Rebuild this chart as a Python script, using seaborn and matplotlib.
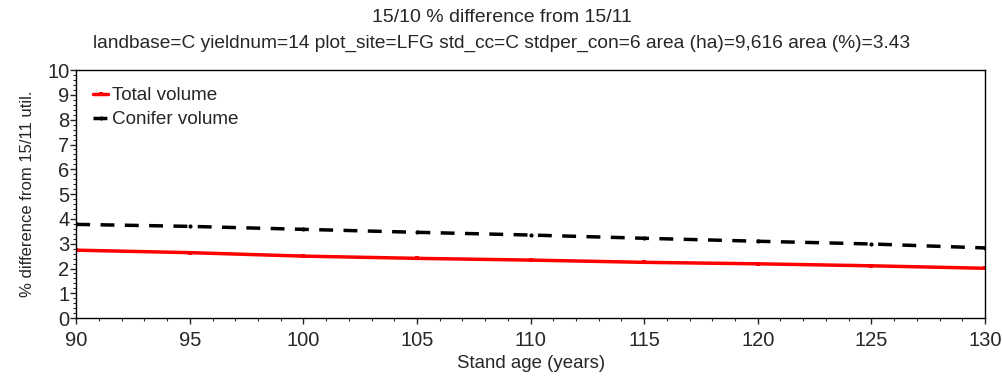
import numpy as np
import pandas as pd
import matplotlib
matplotlib.use('Agg')
import matplotlib.pyplot as plt
from matplotlib.ticker import MultipleLocator
import seaborn as sns

# stand age and % difference values
ages = [90, 95, 100, 105, 110, 115, 120, 125, 130]
total_volume = [2.74, 2.64, 2.50, 2.41, 2.34, 2.25, 2.19, 2.11, 2.01]
conifer_volume = [3.78, 3.70, 3.58, 3.46, 3.35, 3.22, 3.10, 2.99, 2.83]

df = pd.DataFrame({'age': ages, 'Total volume': total_volume,
                   'Conifer volume': conifer_volume})

sns.set_style('white')
plt.rcParams['font.family'] = ['Liberation Sans', 'DejaVu Sans']

fig, ax = plt.subplots(figsize=(10.03, 3.81), dpi=100)
fig.subplots_adjust(left=0.076, right=0.982, top=0.816, bottom=0.165)

sns.lineplot(data=df, x='age', y='Total volume', ax=ax, color='red',
             linewidth=2.5, marker='s', markersize=3, markeredgewidth=0,
             label='Total volume')
sns.lineplot(data=df, x='age', y='Conifer volume', ax=ax, color='black',
             linewidth=2.5, linestyle=(0, (4, 3)), marker='o', markersize=3,
             markeredgewidth=0, label='Conifer volume')

ax.set_xlim(90, 130)
ax.set_ylim(0, 10)
ax.xaxis.set_major_locator(MultipleLocator(5))
ax.xaxis.set_minor_locator(MultipleLocator(1))
ax.yaxis.set_major_locator(MultipleLocator(1))
ax.yaxis.set_minor_locator(MultipleLocator(0.2))
ax.tick_params(axis='both', which='major', labelsize=14.5, length=4,
               width=1, direction='out', bottom=True, left=True)
ax.tick_params(axis='x', which='major', pad=5)
ax.tick_params(axis='y', which='major', pad=1)
ax.tick_params(axis='both', which='minor', length=2, width=0.8,
               bottom=True, left=True)
for sp in ax.spines.values():
    sp.set_color('black')
    sp.set_linewidth(1)

ax.set_xlabel('Stand age (years)', fontsize=13.4, labelpad=4)
ax.set_ylabel('% difference from 15/11 util.', fontsize=12, labelpad=9)

fig.text(0.5, 0.955, '15/10 % difference from 15/11', ha='center',
         va='center', fontsize=14)
fig.text(0.5, 0.885, 'landbase=C yieldnum=14 plot_site=LFG std_cc=C '
         'stdper_con=6 area (ha)=9,616 area (%)=3.43', ha='center',
         va='center', fontsize=13.8)

leg = ax.legend(loc='upper left', frameon=False, fontsize=13.6,
                handlelength=0.8, handletextpad=0.2, borderaxespad=0.5,
                labelspacing=0.35, borderpad=0.4)

fig.savefig('out.png', dpi=100)
